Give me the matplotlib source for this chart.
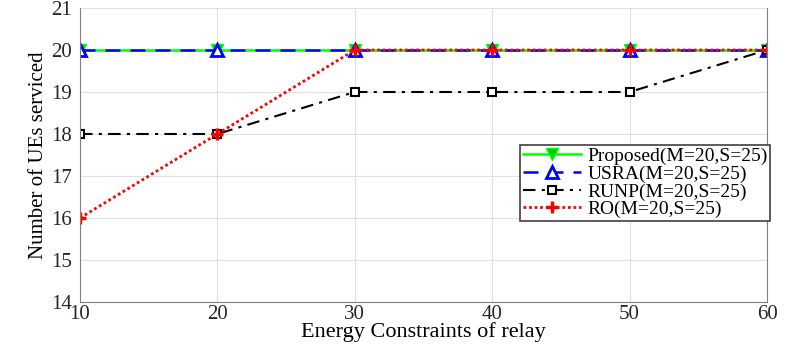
import numpy as np
import matplotlib.pyplot as plt

plt.rcParams['font.family'] = ['Liberation Serif', 'DejaVu Serif']

# Data
energy = [10, 20, 30, 40, 50, 60]
proposed = [20, 20, 20, 20, 20, 20]
usra = [20, 20, 20, 20, 20, 20]
runp = [18, 18, 19, 19, 19, 20]
ro = [16, 18, 20, 20, 20, 20]
labels = ['Proposed(M=20,S=25)', 'USRA(M=20,S=25)', 'RUNP(M=20,S=25)', 'RO(M=20,S=25)']

fig = plt.figure(figsize=(7.89, 3.47), dpi=100)
ax = fig.add_axes([80 / 789, 45 / 347, 687 / 789, 294 / 347])

ax.plot(energy, proposed, color='#00ff00', linestyle='-', linewidth=1.8,
        marker='v', markersize=8, markerfacecolor='#00cc00', markeredgecolor='#00ff00', label=labels[0])
ax.plot(energy, usra, color='blue', linestyle=(0, (6, 4)), linewidth=1.8,
        marker='^', markersize=8, markerfacecolor='white', markeredgecolor='blue', markeredgewidth=2, label=labels[1])
ax.plot(energy, runp, color='black', linestyle=(0, (6, 3, 1.5, 3)), linewidth=1.5,
        marker='s', markersize=6, markerfacecolor='white', markeredgecolor='black', markeredgewidth=1.5, label=labels[2])
ax.plot(energy, ro, color='red', linestyle=(0, (1, 1)), linewidth=2,
        marker='+', markersize=8, markeredgewidth=2.5, label=labels[3])

ax.set_xlim(10, 60)
ax.set_ylim(14, 21)
ax.set_xticks(energy)
ax.set_yticks(np.arange(14, 22, 1))
ax.tick_params(labelsize=15, colors='#262626', direction='in', length=0)
ax.tick_params(axis='y', pad=6)
ax.tick_params(axis='x', pad=2)
ax.grid(True, color='#e0e0e0', linewidth=0.8)
for s in ax.spines.values():
    s.set_color('#808080')
ax.spines['top'].set_visible(False)

ax.set_xlabel('Energy Constraints of relay', fontsize=16, labelpad=-1)
ax.set_ylabel('Number of UEs serviced', fontsize=15, labelpad=2)

leg = ax.legend(loc='upper right', bbox_to_anchor=(1.005, 0.535), fontsize=14,
                frameon=True, fancybox=False, edgecolor='#404040', framealpha=1,
                handlelength=3.0, borderpad=0.15, labelspacing=0.0, handletextpad=0.3, borderaxespad=0)
leg.get_frame().set_linewidth(1.2)

fig.savefig('out.png', dpi=100)
